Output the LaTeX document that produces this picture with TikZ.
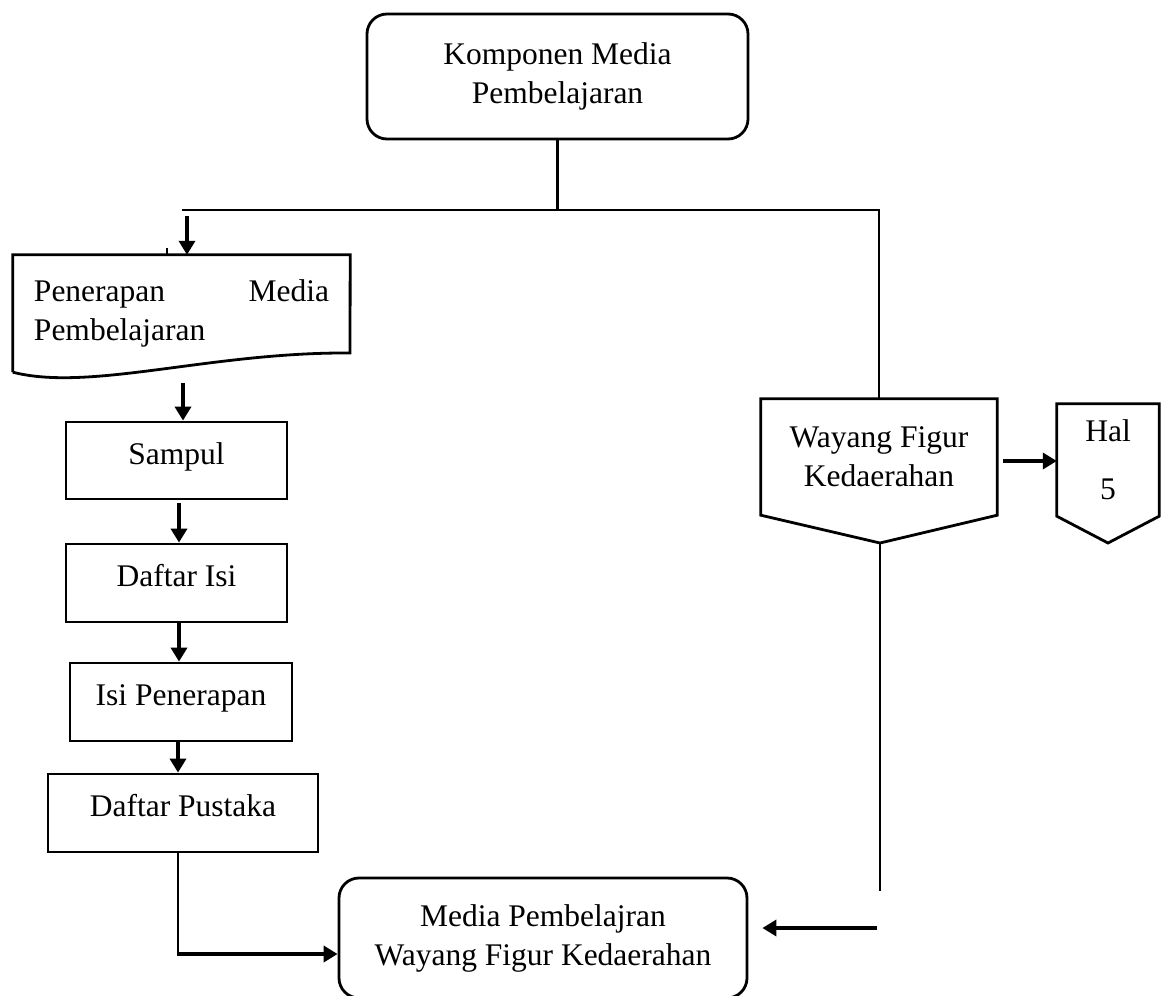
\documentclass[tikz,border=0pt]{standalone}
\usepackage{fontspec}
\setmainfont{Liberation Serif}
\usetikzlibrary{arrows.meta,calc}
\newcommand\dfont{\fontsize{31.5}{39}\selectfont}
\tikzset{
  base/.style={inner sep=0pt, align=center, font=\dfont},
  pbox/.style={base, draw, line width=2.8pt},
  rbox/.style={pbox, rounded corners=20pt},
  lift/.style={text height=22pt, text depth=15pt},
  ln/.style={line width=2.6pt},
  arr/.style={line width=4.2pt, -{Triangle[length=14pt,width=16pt]}},
  outline/.style={line width=2.8pt, line join=miter}
}
\begin{document}
\begin{tikzpicture}[x=1pt,y=-1pt]
\useasboundingbox (0,0) rectangle (1165,996);
% nodes
\node[rbox, minimum width=381pt, minimum height=125pt] (top) at (557.5,76.5) {Komponen Media\\Pembelajaran};
\node[base, align=left, minimum width=337pt, minimum height=117pt] (doc) at (181.5,313.5)
  {\hbox to 295pt{Penerapan\hfill Media}\\Pembelajaran};
\draw[outline] (doc.south west) -- (doc.north west) -- (doc.north east) -- (350,353)
  .. controls (210,352) and (90,392) .. (doc.south west);
\node[pbox, lift, minimum width=221pt, minimum height=77pt] (samp) at (176.5,460.5) {Sampul};
\node[pbox, lift, minimum width=221pt, minimum height=78pt] (di) at (176.5,583) {Daftar Isi};
\node[pbox, lift, minimum width=222pt, minimum height=78pt] (ip) at (181,702) {Isi Penerapan};
\node[pbox, lift, minimum width=270pt, minimum height=78pt] (dp) at (183,813) {Daftar Pustaka};
\node[base, minimum width=236pt, minimum height=116pt] (way) at (879,457) {Wayang Figur\\Kedaerahan};
\coordinate (wt) at (880,543);
\draw[outline] (way.south west) -- (way.north west) -- (way.north east) -- (way.south east) -- (wt) -- cycle;
\node[base, minimum width=102pt, minimum height=112pt] (hal) at (1108,460) {Hal\\[19pt]5};
\coordinate (ht) at (1108,543);
\draw[outline] (hal.south west) -- (hal.north west) -- (hal.north east) -- (hal.south east) -- (ht) -- cycle;
\node[rbox, minimum width=408pt, minimum height=120pt] (mp) at (543,938) {Media Pembelajran\\Wayang Figur Kedaerahan};
% connectors
\coordinate (hl) at (182,210);
\coordinate (hr) at (879,210);
\draw[ln] (top.south) -- (top.south |- hl);
\draw[ln] (hl) -- (hr) -- (way.north);
\coordinate (a0) at (187,216);
\draw[arr] (a0) -- (a0 |- doc.north);
\coordinate (tk) at (167,248);
\draw[ln] (tk) -- (tk |- doc.north);
\coordinate (a1) at (183,383);
\draw[arr] (a1) -- (a1 |- samp.north);
\coordinate (a2) at (179,503);
\draw[arr] (a2) -- (a2 |- di.north);
\draw[arr] (di.south -| a2) -- (a2 |- ip.north);
\coordinate (a4) at (178,741);
\draw[arr] (a4) -- (a4 |- dp.north);
\coordinate (c1) at (178,954);
\draw[ln] (dp.south -| c1) -- (c1);
\draw[arr] ([xshift=-1.3pt]c1) -- (mp.west |- c1);
\coordinate (c2) at (880,891);
\draw[ln] (wt) -- (c2);
\coordinate (c3) at (877,928);
\draw[arr, shorten >=14pt] (c3) -- (mp.east |- c3);
\coordinate (c4) at (1003,461);
\draw[arr] (c4) -- (hal.west |- c4);
\end{tikzpicture}
\end{document}
